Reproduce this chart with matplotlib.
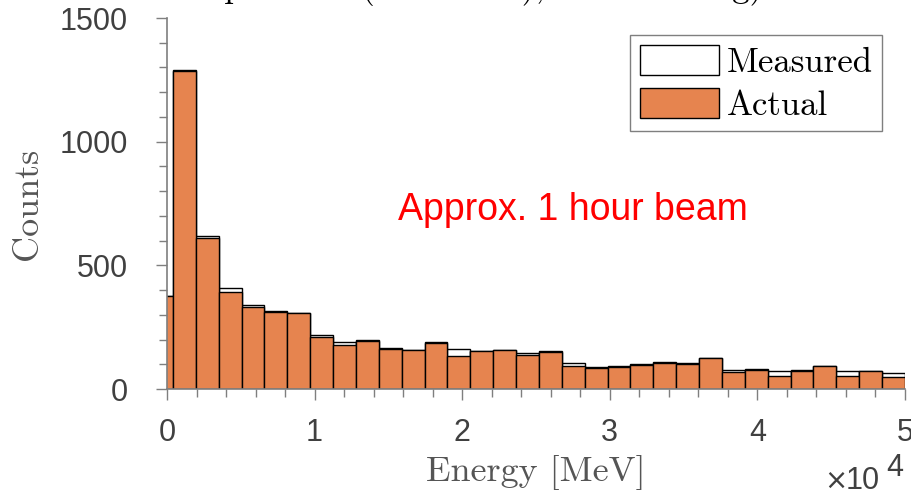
import numpy as np
import matplotlib
matplotlib.use('Agg')
from matplotlib import pyplot as plt
from matplotlib.patches import Patch
from matplotlib.ticker import MultipleLocator, FuncFormatter

# histogram counts per energy bin (first bin is partly below 0 MeV)
bin_lo = -1150
bin_hi = 50000
measured = [375, 1290, 618, 410, 341, 314, 307, 220, 190, 197, 164, 158, 189,
            161, 154, 159, 144, 153, 105, 87, 92, 100, 108, 104, 125, 77, 79,
            74, 75, 93, 73, 72, 63]
actual = [375, 1287, 610, 394, 331, 313, 306, 209, 176, 196, 163, 157, 188,
          135, 153, 158, 138, 151, 95, 84, 90, 98, 106, 102, 124, 70, 78,
          51, 74, 92, 53, 71, 50]
series_names = ['Measured', 'Actual']
note = 'Approx. 1 hour beam'

edges = np.linspace(bin_lo, bin_hi, len(actual) + 1)
width = edges[1] - edges[0]

orange = '#E6844F'
gray = '#7f7f7f'
txt = '#404040'

fig = plt.figure(figsize=(9.12, 4.94), dpi=100)
ax = fig.add_axes([167/912, 1 - 389/494, 738/912, 371/494])

ax.bar(edges[:-1], measured, width=width, align='edge', color='white',
       edgecolor='black', linewidth=1.0)
ax.bar(edges[:-1], actual, width=width, align='edge', color=orange,
       edgecolor='black', linewidth=1.0)

ax.set_xlim(0, 50000)
ax.set_ylim(0, 1500)
ax.xaxis.set_major_locator(MultipleLocator(10000))
ax.xaxis.set_minor_locator(MultipleLocator(2000))
ax.yaxis.set_major_locator(MultipleLocator(500))
ax.yaxis.set_minor_locator(MultipleLocator(100))
ax.xaxis.set_major_formatter(FuncFormatter(lambda v, p: '%d' % round(v / 10000)))

for s in ['top', 'right']:
    ax.spines[s].set_visible(False)
for s in ['left', 'bottom']:
    ax.spines[s].set_color(gray)
    ax.spines[s].set_linewidth(1.2)

ax.tick_params(which='both', direction='out', color=gray, width=1.0,
               labelcolor=txt, labelsize=22)
ax.tick_params(which='major', length=8)
ax.tick_params(which='minor', length=5.5)
ax.tick_params(axis='y', which='major', pad=20)
ax.tick_params(axis='x', which='major', pad=13)
for lab in ax.get_xticklabels() + ax.get_yticklabels():
    lab.set_fontfamily('Liberation Sans')

ax.set_xlabel('Energy [MeV]', fontfamily='cmr10', fontsize=26, color='#555555',
              labelpad=5)
ax.set_ylabel('Counts', fontfamily='cmr10', fontsize=26, color='#555555',
              labelpad=11)

# axis multiplier
fig.text(824/912, 1 - 489/494, '\u00d7', fontfamily='DejaVu Sans',
         fontsize=20, color=txt, ha='left', va='baseline')
fig.text(846/912, 1 - 489/494, '10', fontfamily='Liberation Sans',
         fontsize=22, color=txt, ha='left', va='baseline')
fig.text(886/912, 1 - 476/494, '4', fontfamily='Liberation Sans',
         fontsize=22, color=txt, ha='left', va='baseline')

ax.text(0.313, 0.482, note, transform=ax.transAxes, color='red',
        fontfamily='Liberation Sans', fontsize=27, ha='left', va='center')

handles = [Patch(facecolor='white', edgecolor='black'),
           Patch(facecolor=orange, edgecolor='black')]
leg = ax.legend(handles, series_names, loc='upper right',
                bbox_to_anchor=(0.969, 0.954), borderaxespad=0,
                prop={'family': 'cmr10', 'size': 25}, fancybox=False,
                edgecolor=gray, framealpha=1, handlelength=2.3,
                handleheight=0.95, handletextpad=0.2, labelspacing=0.26,
                borderpad=0.28)
leg.get_frame().set_linewidth(1.0)

# title sits mostly above the canvas
fig.text(68/912, 1.006, 'Detector spectrum (simulated), with binning)',
         fontfamily='cmr10', fontsize=25, color='black', ha='left',
         va='baseline')

fig.savefig('out.png', dpi=100)
